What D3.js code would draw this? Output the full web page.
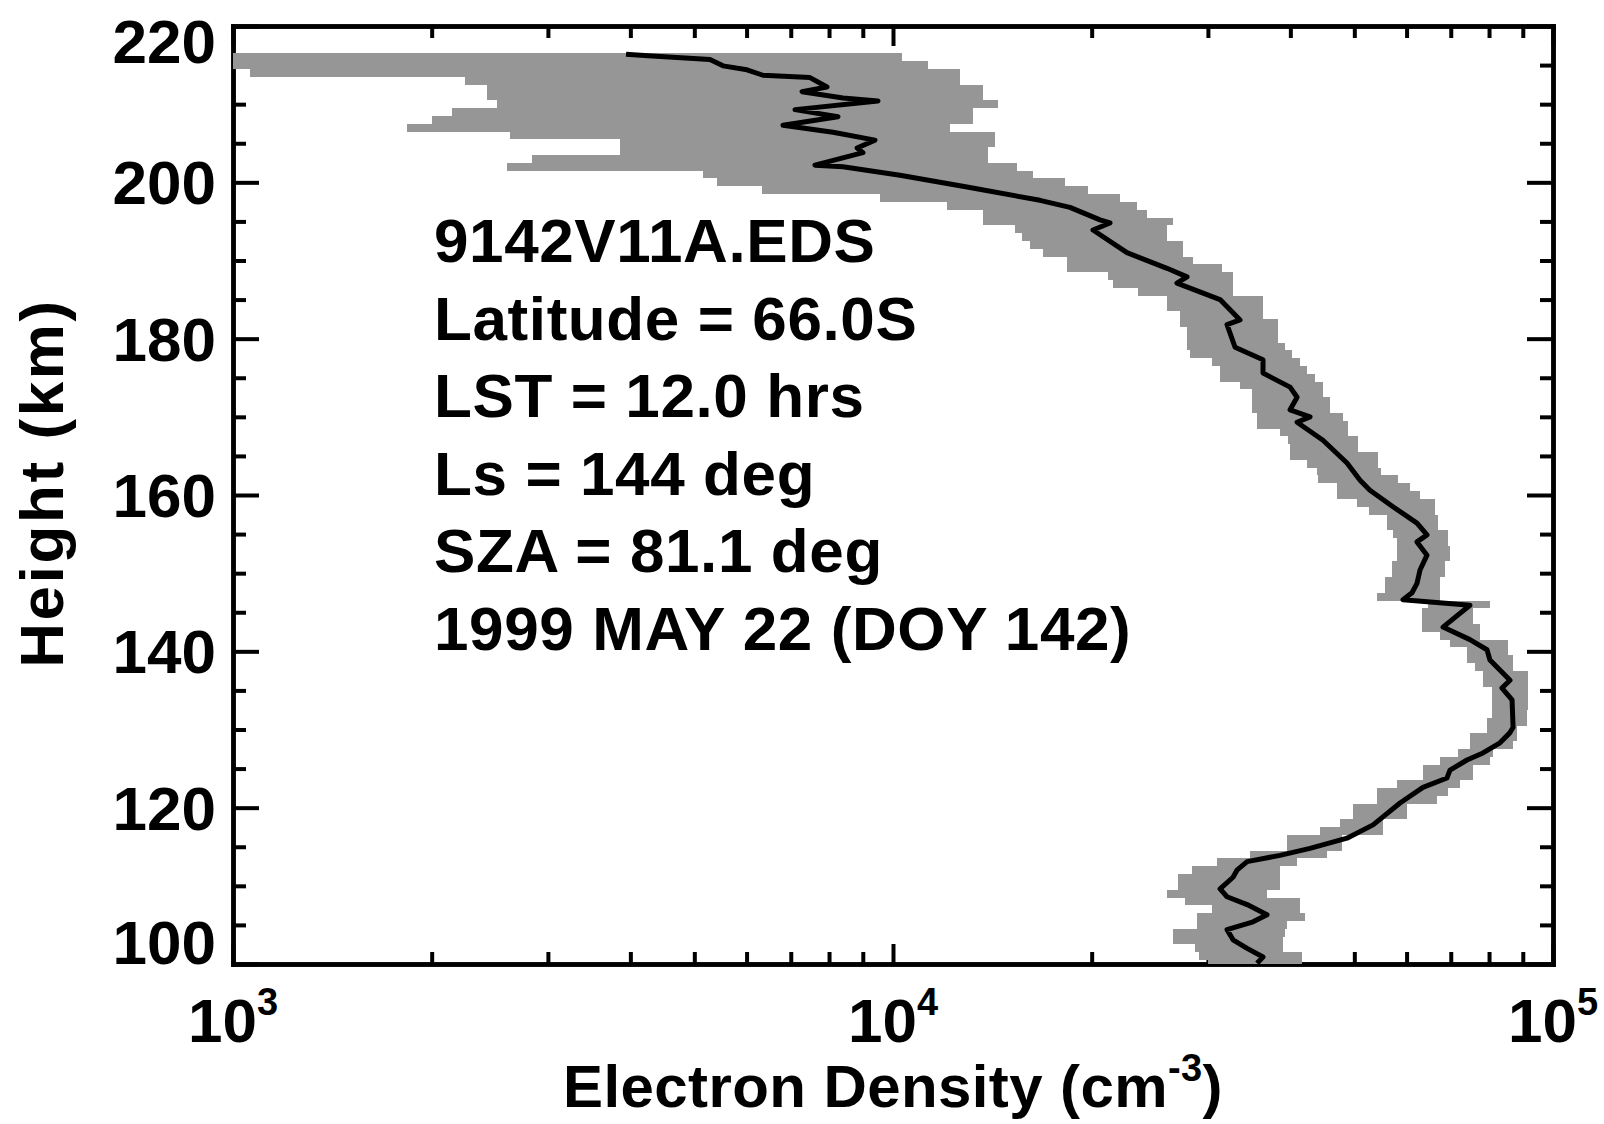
<!DOCTYPE html>
<html>
<head>
<meta charset="utf-8">
<script src="https://cdn.jsdelivr.net/npm/d3@7"></script>
<style>
    html, body { margin: 0; padding: 0; background: #fff; }
    svg { display: block; font-family: "Liberation Sans", Arial, Helvetica, sans-serif; font-weight: bold; }
</style>
</head>
<body>
<svg id="chart" width="1604" height="1124"></svg>
<script>
// Uncertainty band, 1 km bins (height in km, density in cm^-3)
const bandHeight = [216, 215, 214, 213, 212, 211, 210, 209, 208, 207, 206, 205, 204, 203, 202, 201, 200,
    199, 198, 197, 196, 195, 194, 193, 192, 191, 190, 189, 188, 187, 186, 185, 184, 183, 182, 181, 180,
    179, 178, 177, 176, 175, 174, 173, 172, 171, 170, 169, 168, 167, 166, 165, 164, 163, 162, 161, 160,
    159, 158, 157, 156, 155, 154, 153, 152, 151, 150, 149, 148, 147, 146, 145, 144, 143, 142, 141, 140,
    139, 138, 137, 136, 135, 134, 133, 132, 131, 130, 129, 128, 127, 126, 125, 124, 123, 122, 121, 120,
    119, 118, 117, 116, 115, 114, 113, 112, 111, 110, 109, 108, 107, 106, 105, 104, 103, 102, 101, 100];
const bandLow = [900, 900, 1061, 2250, 2427, 2427, 2512, 2148, 2004, 1837, 2630, 3857, 3857, 2835, 2601, 5152, 5410,
    6332, 9560, 12080, 13690, 13690, 15310, 15660, 16110, 16870, 18350, 18350, 21180, 21530, 23500, 26000, 26000, 27230, 27230, 27890, 27890,
    27890, 28140, 30410, 31300, 31300, 33560, 34990, 34990, 34990, 35610, 35610, 38580, 39690, 39970, 39970, 42370, 43900, 44040, 47070, 47070,
    50470, 52620, 56050, 56050, 57240, 58030, 58030, 58030, 57020, 57020, 55660, 55660, 54120, 64660, 63320, 63320, 63320, 67440, 69810, 74080,
    74080, 76140, 78340, 78340, 80800, 80800, 80800, 80800, 79430, 79430, 74820, 74820, 71780, 67440, 63530, 63530, 58030, 54080, 54080, 49770,
    49770, 47530, 44360, 39510, 39510, 34750, 30970, 28380, 27040, 27040, 26000, 27690, 30420, 28880, 28880, 26560, 26560, 28690, 29080, 29990];
const bandHigh = [10320, 11290, 12630, 12630, 13680, 13680, 14420, 13210, 13210, 12190, 14270, 14270, 13930, 13930, 15420, 16300, 18230,
    19750, 22080, 23440, 24270, 26540, 26000, 26000, 27480, 27480, 28480, 31510, 32730, 32730, 32730, 36360, 36360, 36360, 38280, 38280, 38280,
    39260, 40230, 41370, 42420, 43550, 44830, 44830, 45920, 45920, 48080, 48910, 48910, 50640, 50640, 54330, 54330, 54900, 58210, 60700, 62880,
    66270, 66270, 66970, 66970, 69340, 69340, 69810, 69810, 68610, 68610, 67440, 67440, 67440, 80240, 75680, 75680, 77450, 77450, 85480, 85480,
    86990, 86990, 91630, 91630, 91630, 91630, 91630, 91300, 91300, 88230, 88230, 86990, 81100, 80240, 75680, 75680, 72280, 69340, 66680, 60100,
    60100, 55260, 55260, 47860, 47860, 45450, 40940, 38580, 38580, 38580, 36900, 41370, 41370, 42100, 39510, 39250, 38990, 38990, 41690, 41690];

// Measured profile
const lineHeight = [216.4, 216.2, 215.7, 214.9, 214.4, 213.7, 213.4, 212.2, 211.6, 210.8, 210.4, 209.3, 208.4, 207.3,
    206.4, 205.4, 204.4, 203.8, 202.2, 202.0, 200.9, 199.4, 197.7, 196.8, 195.2, 194.8, 193.9, 191.0, 189.0, 187.9,
    187.1, 185.0, 182.4, 181.8, 178.9, 177.3, 175.6, 173.8, 172.5, 170.9, 170.0, 169.3, 167.0, 164.1, 161.9, 160.6,
    158.5, 156.4, 154.9, 154.0, 152.3, 150.4, 148.7, 147.5, 146.6, 145.9, 143.1, 141.5, 140.2, 138.9, 136.3, 135.3,
    133.8, 130.3, 129.6, 128.3, 127.0, 126.1, 124.8, 123.8, 122.6, 120.6, 117.8, 116.1, 114.8, 113.9, 113.1, 112.0,
    111.1, 109.6, 108.6, 107.6, 106.3, 105.4, 104.4, 103.1, 102.0, 100.9, 100.1];
const lineDensity = [3940, 4255, 5280, 5526, 6008, 6353, 7486, 7943, 7280, 8400, 9490, 7104, 8254, 6813,
    8111, 9392, 8823, 9006, 7617, 8400, 10247, 12946, 16700, 18540, 20590, 21320, 20090, 22620, 26010, 27890,
    26930, 31300, 33560, 32070, 32980, 36360, 36360, 39960, 40950, 39960, 42840, 40950, 44820, 48740, 51010, 52800,
    57220, 62220, 64430, 62220, 64430, 62880, 62220, 61150, 59250, 74850, 68130, 74850, 79430, 80260, 86070, 83700,
    86690, 87000, 86070, 83110, 78330, 74080, 69810, 69090, 63530, 58640, 53380, 48740, 42840, 38580, 34400, 33200,
    32750, 31300, 32070, 34400, 36870, 35120, 32070, 32750, 34400, 36360, 35610];

// Axis ticks
const yMajor = [100, 120, 140, 160, 180, 200, 220];
const yMinor = [105, 110, 115, 125, 130, 135, 145, 150, 155, 165, 170, 175, 185, 190, 195, 205, 210, 215];
const xMajor = [1e3, 1e4, 1e5];
const xExp = ['3', '4', '5'];
const xMinor = [2e3, 3e3, 4e3, 5e3, 6e3, 7e3, 8e3, 9e3, 2e4, 3e4, 4e4, 5e4, 6e4, 7e4, 8e4, 9e4];

const infoLines = ['9142V11A.EDS', 'Latitude = 66.0S', 'LST = 12.0 hrs', 'Ls = 144 deg',
    'SZA = 81.1 deg', '1999 MAY 22 (DOY 142)'];

const svg = d3.select('#chart');
const plotLeft = 233, plotRight = 1553, plotTop = 26, plotBottom = 964;

const x = d3.scaleLog().domain([1e3, 1e5]).range([plotLeft, plotRight]).clamp(true);
const y = d3.scaleLinear().domain([100, 220]).range([plotBottom, plotTop]).clamp(true);

// Rahmen mit Ticks nach innen
function frameAxis(axis, tx, ty, values, size) {
    const g = svg.append('g')
        .attr('transform', `translate(${tx},${ty})`)
        .call(axis.tickValues(values).tickSize(-size).tickSizeOuter(0).tickFormat(''));
    g.select('.domain').attr('stroke-width', 4.5).attr('stroke-linecap', 'square');
    g.selectAll('.tick line').attr('stroke-width', 4);
}

frameAxis(d3.axisLeft(y), plotLeft, 0, yMinor, 13);
frameAxis(d3.axisLeft(y), plotLeft, 0, yMajor, 26);
frameAxis(d3.axisRight(y), plotRight, 0, yMinor, 13);
frameAxis(d3.axisRight(y), plotRight, 0, yMajor, 26);
frameAxis(d3.axisBottom(x), 0, plotBottom, xMinor, 12);
frameAxis(d3.axisBottom(x), 0, plotBottom, xMajor, 20);
frameAxis(d3.axisTop(x), 0, plotTop, xMinor, 12);
frameAxis(d3.axisTop(x), 0, plotTop, xMajor, 20);

// Band
const band = bandHeight.map((h, i) => ({ h, lo: bandLow[i], hi: bandHigh[i] }));
svg.append('g')
    .selectAll('rect')
    .data(band)
    .enter()
    .append('rect')
    .attr('x', d => x(d.lo))
    .attr('width', d => x(d.hi) - x(d.lo))
    .attr('y', d => y(d.h + 0.5))
    .attr('height', d => y(d.h - 0.5) - y(d.h + 0.5))
    .attr('fill', '#969696')
    .attr('shape-rendering', 'crispEdges');

// Profil
const profile = lineHeight.map((h, i) => ({ h, n: lineDensity[i] }));
svg.append('path')
    .datum(profile)
    .attr('fill', 'none')
    .attr('stroke', '#000')
    .attr('stroke-width', 5)
    .attr('stroke-linejoin', 'round')
    .attr('d', d3.line().x(d => x(d.n)).y(d => y(d.h)));

// Y-Beschriftung
svg.append('g')
    .selectAll('text')
    .data(yMajor)
    .enter()
    .append('text')
    .attr('x', plotLeft - 17)
    .attr('y', d => Math.min(Math.max(y(d), 41), 942) + 22)
    .attr('text-anchor', 'end')
    .style('font-size', '62px')
    .text(d => d);

// X-Beschriftung (10 hoch n)
const xl = svg.append('g')
    .selectAll('text')
    .data(xMajor)
    .enter()
    .append('text')
    .attr('x', d => x(d))
    .attr('y', 1042)
    .attr('text-anchor', 'middle')
    .style('font-size', '62px');
xl.append('tspan').text('10');
xl.append('tspan').attr('dy', -27).style('font-size', '38px').text((d, i) => xExp[i]);

// Achsentitel
const xt = svg.append('text')
    .attr('x', (plotLeft + plotRight) / 2)
    .attr('y', 1107)
    .attr('text-anchor', 'middle')
    .style('font-size', '60px')
    .style('letter-spacing', '0.4px');
xt.append('tspan').text('Electron Density (cm');
xt.append('tspan').attr('dy', -26).style('font-size', '38px').text('-3');
xt.append('tspan').attr('dy', 26).text(')');

svg.append('text')
    .attr('transform', 'translate(63,483) rotate(-90)')
    .attr('text-anchor', 'middle')
    .style('font-size', '62px')
    .style('letter-spacing', '2.6px')
    .text('Height (km)');

// Info-Text
svg.append('g')
    .selectAll('text')
    .data(infoLines)
    .enter()
    .append('text')
    .attr('x', 434)
    .attr('y', (d, i) => 262 + i * 77.6)
    .style('font-size', '62px')
    .style('letter-spacing', '0.6px')
    .text(d => d);
</script>
</body>
</html>
